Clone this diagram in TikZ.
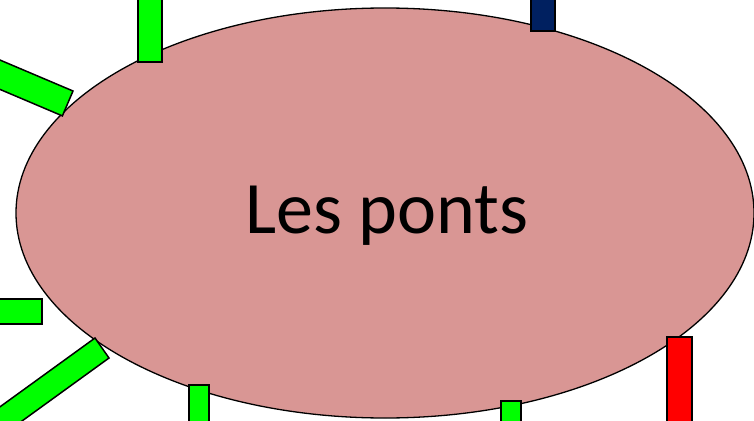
\documentclass[tikz,border=0pt]{standalone}
\usepackage{fontspec}
\setmainfont{Carlito}
\usetikzlibrary{shapes.geometric}
\definecolor{pontrose}{RGB}{217,150,148}
\definecolor{pontgreen}{RGB}{0,255,0}
\definecolor{pontnavy}{RGB}{0,32,96}
\definecolor{pontred}{RGB}{255,0,0}
\tikzset{
  ile/.style={ellipse, draw=black, fill=pontrose, line width=1.3pt, inner sep=0pt,
    minimum width=738pt, minimum height=410pt},
  pilegreen/.style={draw=black, line width=1.5pt, fill=pontgreen},
  pilenavy/.style={draw=black, line width=1.5pt, fill=pontnavy},
  pilered/.style={draw=black, line width=1.5pt, fill=pontred},
  titre/.style={font=\fontsize{74}{80}\selectfont, anchor=base}
}
\begin{document}
\begin{tikzpicture}[x=1pt,y=-1pt]
  \useasboundingbox (0,0) rectangle (754,420);
  \clip (0,0) rectangle (754,420);
  \node[ile] (ile) at (385,213) {};
  \node[titre] (nom) at (387,233) {Les ponts};
  % ponts du haut
  \draw[pilegreen] (138,-5) rectangle (162,62);
  \draw[pilenavy] (531,-5) rectangle (555,31);
  \draw[pilegreen] (73,91) -- (62.4,115.9) -- (-29.7,76.8) -- (-19,52) -- cycle;
  % ponts du bas
  \draw[pilegreen] (-5,299) rectangle (42,324);
  \draw[pilegreen] (95,338) -- (109,358) -- (-12.5,446) -- (-26.5,426) -- cycle;
  \draw[pilegreen] (189,385) rectangle (209,425);
  \draw[pilegreen] (501,401) rectangle (521,425);
  \draw[pilered] (667,337) rectangle (692,425);
\end{tikzpicture}
\end{document}
